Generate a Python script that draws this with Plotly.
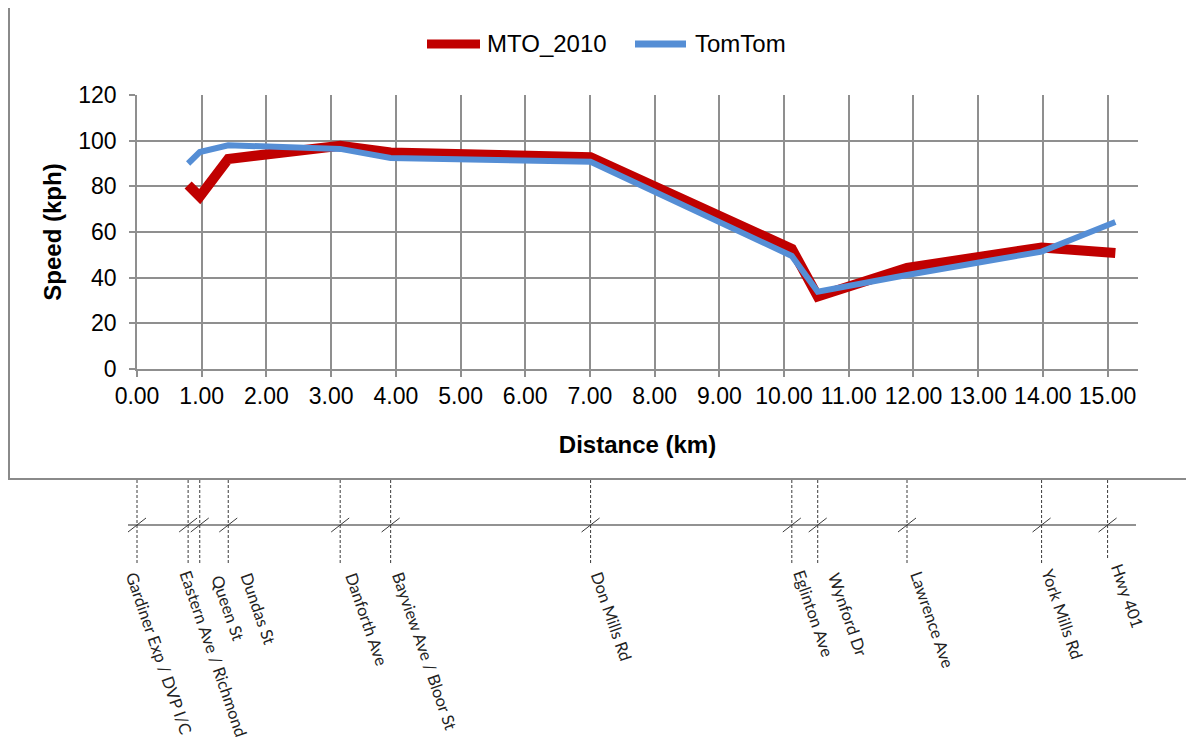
import plotly.graph_objects as go

# ---------------- data ----------------
street_names = ["Gardiner Exp / DVP I/C", "Eastern Ave / Richmond", "Queen St", "Dundas St",
                "Danforth Ave", "Bayview Ave / Bloor St", "Don Mills Rd", "Eglinton Ave",
                "Wynford Dr", "Lawrence Ave", "York Mills Rd", "Hwy 401"]
street_km = [0.0, 0.79, 0.97, 1.41, 3.14, 3.92, 7.01, 10.12, 10.52, 11.90, 13.98, 15.00]

dist_km = [0.79, 0.97, 1.41, 3.14, 3.92, 7.01, 10.12, 10.52, 11.90, 13.98, 15.12]
mto_2010 = [80.6, 75.5, 92.0, 97.8, 94.8, 92.8, 52.6, 31.8, 44.3, 53.2, 50.8]
tomtom = [90.0, 95.0, 98.0, 96.4, 92.4, 90.8, 49.5, 33.8, 41.2, 51.4, 64.4]

series_names = ["MTO_2010", "TomTom"]
x_ticks = [0, 1, 2, 3, 4, 5, 6, 7, 8, 9, 10, 11, 12, 13, 14, 15]
y_ticks = [0, 20, 40, 60, 80, 100, 120]

# ---------------- layout constants ----------------
# the page body has an 8px margin, so the figure is 8px smaller than the window
W, H = 1186, 732
ML, MR, MT, MB = 129, 56, 87, 371
XMAX = 15.47
PW = W - ML - MR
PH = H - MT - MB
REF_LEFT, REF_BOTTOM = 137, 369  # plot-area corner in window pixels
GRID = "#8f8f8f"
RED = "#C00000"
BLUE = "#558ED5"
LABEL_FONT = "Lato, Open Sans, sans-serif"
MAIN_FONT = "Liberation Sans, Arial, sans-serif"


def px(xp):
    return (xp - REF_LEFT) / PW


def py(yp):
    return (REF_BOTTOM - yp) / PH


def kx(km):
    return km / XMAX


fig = go.Figure()
fig.add_trace(go.Scatter(x=dist_km, y=mto_2010, name=series_names[0], mode="lines",
                         line=dict(color=RED, width=10), showlegend=False))
fig.add_trace(go.Scatter(x=dist_km, y=tomtom, name=series_names[1], mode="lines",
                         line=dict(color=BLUE, width=6), showlegend=False))

shapes = []
annotations = []
# outer chart box
shapes.append(dict(type="rect", xref="paper", yref="paper",
                   x0=px(9), x1=px(1210), y0=py(479), y1=py(6),
                   line=dict(color="#8a8a8a", width=2), fillcolor="rgba(0,0,0,0)", layer="below"))

# legend (drawn)
leg = [(series_names[0], RED, 9, 427, 480, 485), (series_names[1], BLUE, 7, 635, 686, 693)]
for name, col, lw, x0, x1, xt in leg:
    shapes.append(dict(type="line", xref="paper", yref="paper",
                       x0=px(x0), x1=px(x1), y0=py(44), y1=py(44),
                       line=dict(color=col, width=lw)))
    annotations.append(dict(text=name, xref="paper", yref="paper", x=px(xt), y=py(44),
                            xanchor="left", yanchor="middle", showarrow=False,
                            font=dict(family=MAIN_FONT, size=24, color="black")))

# street baseline
shapes.append(dict(type="line", xref="paper", yref="paper",
                   x0=px(128), x1=px(1136), y0=py(525), y1=py(525),
                   line=dict(color="#6e6e6e", width=1.5)))
label_dx = [-18, -15, 5, 6, -1, -5, -6, -5, 4, -3, -7, -3]
label_top = [567, 566, 570, 568, 568, 567, 567, 565, 568, 566, 564, 559]
for i, (name, km) in enumerate(zip(street_names, street_km)):
    xp = kx(km)
    bottom = 560 if name == "Hwy 401" else 563
    shapes.append(dict(type="line", xref="paper", yref="paper",
                       x0=xp, x1=xp, y0=py(480), y1=py(bottom),
                       line=dict(color="#3a3a3a", width=1, dash="3px,2px")))
    shapes.append(dict(type="line", xref="paper", yref="paper",
                       x0=xp - 9 / PW, x1=xp + 9 / PW, y0=py(532), y1=py(518),
                       line=dict(color="#3a3a3a", width=1)))
    annotations.append(dict(text=name, xref="paper", yref="paper",
                            x=xp + label_dx[i] / PW, y=py(label_top[i]),
                            xanchor="left", yanchor="top", textangle=71, showarrow=False,
                            font=dict(family=LABEL_FONT, size=16.5, color="#222222")))

fig.update_layout(
    width=W, height=H,
    margin=dict(l=ML, r=MR, t=MT, b=MB),
    paper_bgcolor="white", plot_bgcolor="white",
    font=dict(family=MAIN_FONT, color="black"),
    showlegend=False,
    xaxis=dict(range=[0, XMAX], tickvals=x_ticks, ticktext=[f"{v:.2f}" for v in x_ticks],
               showgrid=True, gridcolor=GRID, gridwidth=1.5,
               showline=True, linecolor=GRID, linewidth=1.5,
               ticks="outside", ticklen=6, tickcolor=GRID, tickwidth=1.5,
               tickfont=dict(size=23), zeroline=False,
               title=dict(text="<b>Distance (km)</b>", font=dict(size=24), standoff=28)),
    yaxis=dict(range=[0, 120], tickvals=y_ticks,
               showgrid=True, gridcolor=GRID, gridwidth=1.5,
               showline=True, linecolor=GRID, linewidth=1.5,
               ticks="outside", ticklen=6, tickcolor=GRID, tickwidth=1.5,
               tickfont=dict(size=23), zeroline=False, ticklabelstandoff=8,
               title=dict(text="<b>Speed (kph)</b>", font=dict(size=24), standoff=10)),
    shapes=shapes,
    annotations=annotations,
)

fig.write_html("out.html")
